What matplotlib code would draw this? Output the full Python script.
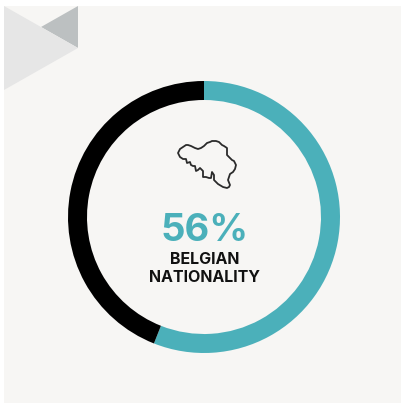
import matplotlib
matplotlib.use("Agg")
import matplotlib.pyplot as plt
from matplotlib.patches import Polygon, Rectangle

W, H = 401, 403

shares = [56, 44]
ring_colors = ["#4bb0ba", "#000000"]
big_label = "56%"
small_label = "BELGIAN\nNATIONALITY"

belgium_x = [178, 180, 183, 186, 188, 191, 195, 198, 201, 204, 207, 210, 212, 216, 219, 222, 224, 227, 227, 229, 232,
             234, 236, 235, 233, 230, 228, 230, 229, 227, 223, 218, 214, 214, 212, 211, 209, 206, 203, 203, 200, 198,
             196, 195, 193, 191, 190, 187, 186, 183, 180]
belgium_y = [153, 149, 147, 145, 145, 146, 148, 149, 148, 146, 143, 142, 141, 141, 142, 145, 146, 148, 155, 157, 160,
             161, 165, 169, 172, 174, 180, 185, 187, 188, 187, 184, 180, 175, 172, 178, 178, 177, 177, 171, 168, 170,
             171, 166, 166, 165, 162, 163, 159, 159, 157]


def fy(y):
    return H - y


fig = plt.figure(figsize=(W / 100, H / 100), dpi=100, facecolor="white")
ax = fig.add_axes([0, 0, 1, 1])
ax.set_xlim(0, W)
ax.set_ylim(0, H)
ax.axis("off")

# panel and corner triangles
ax.add_patch(Rectangle((4, 0), W - 4, fy(6), fc="#f7f6f4", ec="none"))
ax.add_patch(Polygon([(41, fy(27)), (78, fy(6)), (78, fy(48))], fc="#bcc0c1", ec="none"))
ax.add_patch(Polygon([(4, fy(6)), (78, fy(48)), (4, fy(90))], fc="#e6e6e6", ec="none"))

ax.pie(shares, colors=ring_colors, startangle=90, counterclock=False, radius=136,
       center=(204, fy(217)), frame=True, wedgeprops={"width": 19, "linewidth": 0})
ax.set_xlim(0, W)
ax.set_ylim(0, H)
ax.set_aspect("auto")
ax.axis("off")

ax.add_patch(Polygon(list(zip(belgium_x, [fy(y) for y in belgium_y])), closed=True, fc="none",
                     ec="#2b2b2b", lw=1.3, joinstyle="round"))

ax.text(205, fy(231), big_label, color=ring_colors[0], fontsize=27.5, fontweight="bold",
        family="Inter", ha="center", va="center")
ax.text(204.5, fy(268.5), small_label, color="#111111", fontsize=11.5, fontweight="bold", family="Inter",
        ha="center", va="center", linespacing=1.25)

fig.savefig("out.png", dpi=100, facecolor="white")
